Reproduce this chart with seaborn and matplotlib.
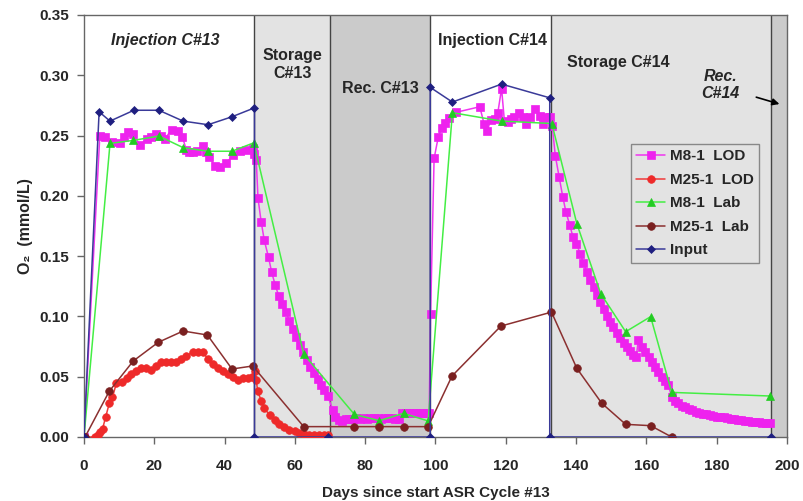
import numpy as np
import pandas as pd
import matplotlib
matplotlib.use('Agg')
import matplotlib.pyplot as plt
import seaborn as sns

# M8-1 LOD (magenta squares)
m8_lod_x = [0, 4.5, 6, 8, 10.2, 11.5, 12.6, 14, 15.9, 17.8, 19.2, 20.5, 22, 23, 24.9, 26.8, 28,
            29.1, 30, 31, 32.2, 33.8, 34.8, 35.7, 37.2, 38.6, 40.5, 42.4, 44.3, 46.2, 48, 48.5, 49,
            49.5, 50.4, 51.3, 52.5, 53.4, 54.4, 55.4, 56.3, 57.5, 58.4, 59.4, 60.3, 61.5, 62.4,
            63.5, 64.4, 65.4, 66.5, 67.4, 68.4, 69.3, 70.8, 71.4, 72.6,
            73.5, 74.5, 75.5, 76.5, 77.5, 78.5, 79.5, 80.5, 81.5, 82.5, 83.5, 84.5, 85.5, 86.5,
            87.5, 88.5, 89.5, 90.5, 91.5, 92.5, 93.5, 94.5, 95.5, 96.5, 97.5, 98.2,
            98.6, 99.6, 100.8, 101.8, 102.7, 103.8, 105.7, 112.6, 113.8, 114.7, 115.7, 116.8,
            117.7, 118.8, 119.6, 120.6, 121.5, 122.3, 123.7, 124.8, 125.8, 127, 128.4, 129.8,
            130.6, 131.7, 132.5, 133.2,
            134.1, 135.2, 136.2, 137.1, 138.2, 139.1, 140.1, 141.2, 142.1, 143.1, 144, 145,
            145.9, 146.9, 147.8, 148.7, 149.7, 150.6, 151.6, 152.5, 153.5, 154.4, 155.4, 156.3,
            157.1, 157.7, 158.7, 159.6, 160.6, 161.5, 162.5, 163.4, 164.3, 165.3, 166.2, 167.2,
            168.1, 169.1, 170, 171, 172, 173, 174, 175, 176, 177, 178, 179, 180, 181, 182, 183,
            184, 185, 186, 187, 188, 189, 190, 191, 192, 193, 194, 195.3]
m8_lod_y = [0, 0.250, 0.249, 0.245, 0.244, 0.249, 0.253, 0.251, 0.242, 0.247, 0.249, 0.251,
            0.250, 0.247, 0.255, 0.254, 0.249, 0.238, 0.236, 0.236, 0.237, 0.241, 0.236, 0.232,
            0.225, 0.224, 0.227, 0.234, 0.237, 0.238, 0.240, 0.235, 0.230,
            0.198, 0.1786, 0.163, 0.149, 0.1366, 0.126, 0.117, 0.110, 0.1034, 0.0965, 0.0896,
            0.0827, 0.0763, 0.0702, 0.0638, 0.0583, 0.0533, 0.0478, 0.0431, 0.039, 0.0343,
            0.0224, 0.0168, 0.0141,
            0.0135, 0.0148, 0.0152, 0.0150, 0.0155, 0.0153, 0.0156, 0.0152, 0.0157, 0.0160,
            0.0155, 0.0150, 0.0154, 0.0158, 0.0156, 0.0150, 0.0148, 0.0195, 0.0197, 0.0196,
            0.0198, 0.0197, 0.0199, 0.0200, 0.0198, 0.0200,
            0.102, 0.231, 0.249, 0.256, 0.2606, 0.2642, 0.2692, 0.2739, 0.260, 0.2537, 0.2629,
            0.264, 0.2684, 0.289, 0.262, 0.2615, 0.264, 0.2656, 0.2689, 0.265, 0.260, 0.2656,
            0.2717, 0.266, 0.260, 0.2656, 0.2656, 0.258,
            0.233, 0.2153, 0.1993, 0.1868, 0.1758, 0.166, 0.160, 0.152, 0.144, 0.137, 0.130,
            0.1246, 0.1177, 0.1122, 0.1059, 0.1006, 0.0956, 0.091, 0.086, 0.0818, 0.0777,
            0.0744, 0.0713, 0.068, 0.0661, 0.0804, 0.0749, 0.0707, 0.0661, 0.062, 0.0578,
            0.0536, 0.050, 0.0464, 0.0431, 0.0334, 0.0301, 0.028, 0.026, 0.0245, 0.0232, 0.022,
            0.021, 0.0202, 0.0194, 0.0187, 0.018, 0.0175, 0.017, 0.0166, 0.0162, 0.0157, 0.015,
            0.0146, 0.0142, 0.0137, 0.0133, 0.013, 0.0127, 0.0124, 0.0122, 0.012, 0.0118, 0.0116]

# M25-1 LOD (red circles)
m25_lod_x = [0, 3, 4.1, 4.5, 5.3, 6.2, 7.2, 8.1, 9.2, 10.7, 12.1, 13.5, 14.9, 16.3, 17.7, 19.2,
             20.6, 22, 23.4, 24.8, 26.2, 27.7, 29.1, 31, 32.4, 33.9, 35.3, 36.7, 38.1, 39.5, 41,
             42.4, 43.8, 45.2, 46.6, 47.8, 48.7, 49, 49.4, 50.4, 51.3, 52.8, 54.2, 55.6, 57,
             58.4, 59.9, 61.3, 62.7, 64.1, 65.5, 66.9, 68.4, 69.3]
m25_lod_y = [0, 0, 0.002, 0.004, 0.007, 0.017, 0.028, 0.033, 0.0445, 0.046, 0.0487, 0.052,
             0.0547, 0.057, 0.057, 0.0556, 0.0591, 0.0619, 0.062, 0.062, 0.0622, 0.0644, 0.0672,
             0.0707, 0.0703, 0.0702, 0.0644, 0.0603, 0.057, 0.0547, 0.0522, 0.0495, 0.0473,
             0.0487, 0.049, 0.050, 0.055, 0.047, 0.0384, 0.030, 0.0238, 0.0182, 0.0141, 0.0108,
             0.008, 0.0058, 0.0046, 0.003, 0.0022, 0.0017, 0.0015, 0.0014, 0.0014, 0.0014]

# M8-1 Lab (green triangles)
m8_lab_x = [0, 7.4, 14, 21.3, 28.2, 35.3, 42.1, 48.3, 62.5, 76.9, 84, 90.9, 97.9, 104.8, 118.8,
            133.1, 140.2, 147, 154.1, 161.2, 167.2, 195.1]
m8_lab_y = [0, 0.2435, 0.246, 0.2496, 0.240, 0.237, 0.237, 0.244, 0.0688, 0.0188, 0.0135,
            0.0196, 0.0133, 0.269, 0.262, 0.260, 0.177, 0.119, 0.0873, 0.0998, 0.037, 0.034]

# M25-1 Lab (brown circles)
m25_lab_x = [0.3, 7.2, 14, 21.1, 28.2, 35.1, 42.1, 48, 62.5, 76.9, 84, 90.9, 97.9, 104.7, 118.6,
             133, 140.2, 147.3, 154.1, 161.2, 167.2]
m25_lab_y = [0, 0.038, 0.063, 0.0785, 0.0879, 0.0846, 0.0564, 0.0589, 0.0086, 0.0086, 0.0086,
             0.0086, 0.0086, 0.0506, 0.092, 0.1036, 0.057, 0.028, 0.0105, 0.0094, 0.0]

# Input (navy diamonds)
input_x = [0, 4.3, 7.4, 14.2, 21.3, 28.2, 35.3, 42.1, 48.5, 48.5, 69.5, 98.5, 98.5, 104.8,
           118.8, 132.5, 132.5, 195.5]
input_y = [0, 0.2697, 0.262, 0.271, 0.271, 0.262, 0.259, 0.2656, 0.273, 0, 0, 0, 0.290, 0.2778,
           0.2927, 0.2813, 0, 0]

# phase boundaries (days)
phase_edges = [0, 48.5, 70, 98.5, 133, 195.5, 200]
phase_colors = ['white', '#e3e3e3', '#cbcbcb', 'white', '#e3e3e3', '#cbcbcb']

sns.set_style('white')
plt.rcParams['font.family'] = ['Liberation Sans', 'DejaVu Sans']
plt.rcParams['font.weight'] = 'bold'

fig = plt.figure(figsize=(8.04, 5.01), dpi=100)
ax = fig.add_axes([84 / 804, 64 / 501, 703 / 804, 422 / 501])

for i in range(len(phase_colors)):
    ax.axvspan(phase_edges[i], phase_edges[i + 1], color=phase_colors[i], zorder=0, lw=0)
for e in phase_edges[1:-1]:
    ax.axvline(e, color='#444444', lw=1, zorder=1)

series = [
    ('M8-1  LOD', m8_lod_x, m8_lod_y, '#f035f0', '#ee22ee', 's', 6),
    ('M25-1  LOD', m25_lod_x, m25_lod_y, '#f03a3a', '#ee2a2a', 'o', 5.5),
    ('M8-1  Lab', m8_lab_x, m8_lab_y, '#44ee44', '#22cc22', '^', 6),
    ('M25-1  Lab', m25_lab_x, m25_lab_y, '#8b3030', '#7a2020', 'o', 5.5),
    ('Input', input_x, input_y, '#3a3a99', '#1f1f80', 'D', 4.5),
]
for name, xs, ys, lc, mc, mk, ms in series:
    sns.lineplot(x=xs, y=ys, ax=ax, estimator=None, sort=False, color=lc, lw=1.1,
                 marker=mk, markersize=ms, markerfacecolor=mc, markeredgecolor=mc,
                 markeredgewidth=0.5, label=name, zorder=3)

ax.set_xlim(0, 200)
ax.set_ylim(0, 0.35)
ax.set_xticks(range(0, 201, 20))
ax.set_yticks(np.arange(0, 0.351, 0.05))
ax.set_yticklabels([f'{v:.2f}' for v in np.arange(0, 0.351, 0.05)])
ax.tick_params(axis='x', direction='out', length=5, width=1, color='#666666', pad=11,
               labelsize=11, bottom=True)
ax.tick_params(axis='y', direction='out', length=5, width=1, color='#666666', pad=6,
               labelsize=11, left=True)
for lab in ax.get_xticklabels() + ax.get_yticklabels():
    lab.set_fontweight('bold')
for s in ax.spines.values():
    s.set_color('#666666')
    s.set_linewidth(1)

ax.set_xlabel('Days since start ASR Cycle #13', fontsize=11, fontweight='bold', labelpad=9)
ax.set_ylabel('O₂  (mmol/L)', fontsize=11.5, fontweight='bold', labelpad=4)

ax.text(23, 0.329, 'Injection C#13', fontsize=11.5, fontweight='bold', style='italic',
        ha='center', va='center')
ax.text(59.3, 0.309, 'Storage\nC#13', fontsize=11.5, fontweight='bold', ha='center',
        va='center', linespacing=1.2)
ax.text(84.3, 0.289, 'Rec. C#13', fontsize=11.5, fontweight='bold', ha='center', va='center')
ax.text(116.3, 0.329, 'Injection C#14', fontsize=11.5, fontweight='bold', ha='center',
        va='center')
ax.text(152, 0.311, 'Storage C#14', fontsize=11.5, fontweight='bold', ha='center', va='center')
ax.text(181, 0.292, 'Rec.\nC#14', fontsize=11.5, fontweight='bold', style='italic',
        ha='center', va='center', linespacing=1.2)
ax.annotate('', xy=(198.6, 0.2755), xytext=(190.5, 0.2825),
            arrowprops=dict(arrowstyle='-|>', color='black', lw=1.2, mutation_scale=10))

leg = ax.legend(loc='upper left', bbox_to_anchor=(0.778, 0.694), fontsize=11,
                frameon=True, fancybox=False, facecolor='#e3e3e3', edgecolor='#888888',
                framealpha=1, handlelength=1.9, handletextpad=0.3, labelspacing=0.62,
                borderpad=0.35, borderaxespad=0)
for t in leg.get_texts():
    t.set_fontweight('bold')

fig.savefig('out.png', dpi=100)
